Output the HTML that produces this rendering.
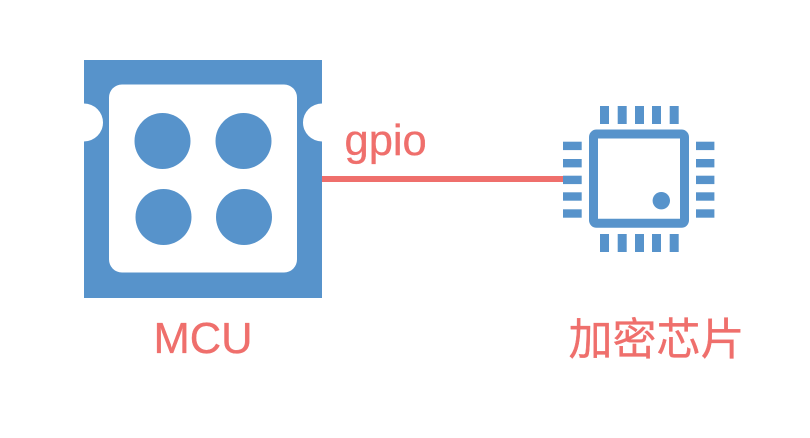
<!DOCTYPE html>
<html>
<head>
<meta charset="utf-8">
<style>
html,body{margin:0;padding:0;background:#fff;}
svg{display:block;}
text{font-family:"Liberation Sans","Noto Sans CJK SC",sans-serif;font-size:44px;fill:#EF6F6C;stroke:#EF6F6C;stroke-width:0.35px;}
</style>
</head>
<body>
<svg width="810" height="438" viewBox="0 0 810 438" xmlns="http://www.w3.org/2000/svg">
<rect width="810" height="438" fill="#fff"/>
<rect x="322" y="176" width="242" height="6" fill="#EF6F6C"/>
<rect x="84" y="60" width="238" height="238" fill="#5793CB"/>
<circle cx="84" cy="122.5" r="19" fill="#fff"/>
<circle cx="322" cy="122.5" r="19" fill="#fff"/>
<rect x="109" y="84.5" width="188" height="188" rx="13" fill="#fff"/>
<rect x="593.5" y="134" width="91" height="89.3" rx="3" fill="#fff" stroke="#5793CB" stroke-width="9"/>
<g fill="#5793CB">
<circle cx="162.5" cy="141" r="28"/>
<circle cx="243.5" cy="141" r="28"/>
<circle cx="163.5" cy="217" r="28"/>
<circle cx="244" cy="217" r="28"/>
<rect x="600" y="106" width="9" height="18"/>
<rect x="617.7" y="106" width="9" height="18"/>
<rect x="635" y="106" width="9" height="18"/>
<rect x="652" y="106" width="9" height="18"/>
<rect x="669.7" y="106" width="9" height="18"/>
<rect x="600" y="234" width="9" height="18"/>
<rect x="617.7" y="234" width="9" height="18"/>
<rect x="635" y="234" width="9" height="18"/>
<rect x="652" y="234" width="9" height="18"/>
<rect x="669.7" y="234" width="9" height="18"/>
<rect x="563" y="141.7" width="18.7" height="8.4"/>
<rect x="563" y="159" width="18.7" height="8.4"/>
<rect x="563" y="175.7" width="18.7" height="8.4"/>
<rect x="563" y="192.3" width="18.7" height="8.4"/>
<rect x="563" y="209.3" width="18.7" height="8.4"/>
<rect x="696" y="141.7" width="18.4" height="8.4"/>
<rect x="696" y="159" width="18.4" height="8.4"/>
<rect x="696" y="175.7" width="18.4" height="8.4"/>
<rect x="696" y="192.3" width="18.4" height="8.4"/>
<rect x="696" y="209.3" width="18.4" height="8.4"/>
<circle cx="661.3" cy="200.7" r="8.7"/>
</g>
<text x="344.5" y="155" font-size="43.5" style="font-size:43.5px">gpio</text>
<text x="153.5" y="353" style="font-size:43.5px">MCU</text>
<text x="568.5" y="354.5">加密芯片</text>
</svg>
</body>
</html>
